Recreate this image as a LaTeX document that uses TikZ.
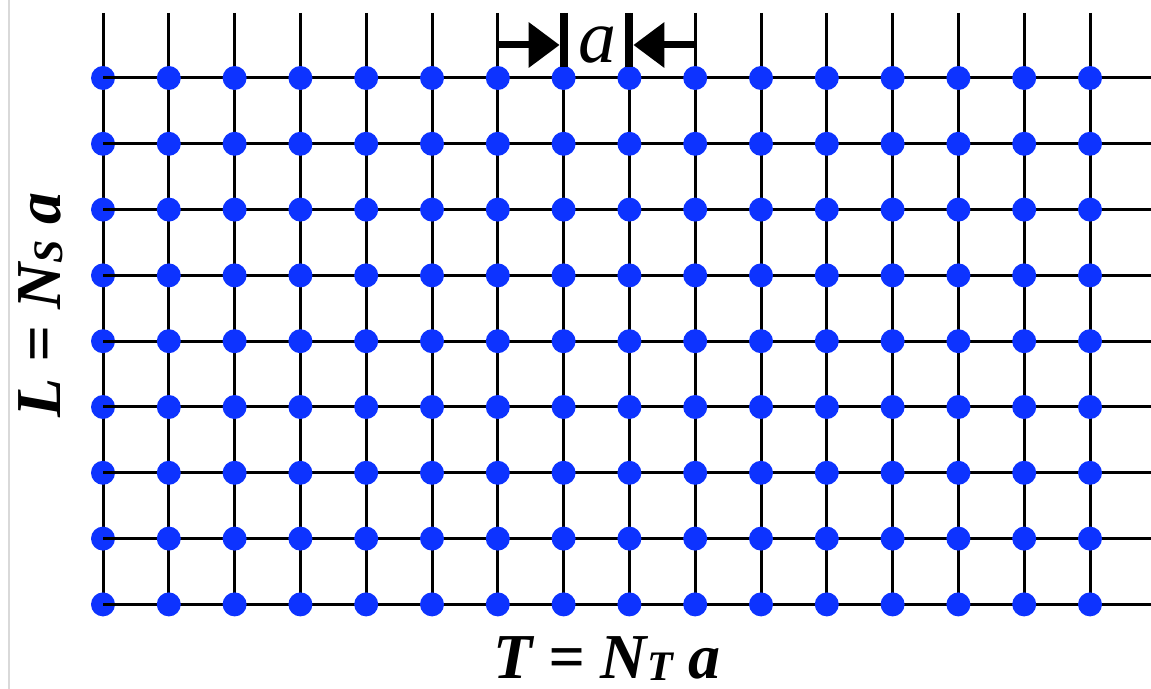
\documentclass[tikz,border=0pt]{standalone}
\usepackage{fontspec}
\setmainfont{Liberation Serif}
\usetikzlibrary{arrows.meta,calc}

\definecolor{sitecol}{RGB}{13,51,255}

\begin{document}
\begin{tikzpicture}[
  x=0.5pt,y=-0.5pt,
  site/.style={circle,fill=sitecol,inner sep=0pt,minimum size=12pt},
  link/.style={line width=1.5pt},
  bar/.style={line width=4pt},
  dimarrow/.style={line width=3.5pt,-{Triangle[length=15.5pt,width=22pt]}},
  biglabel/.style={font=\bfseries\itshape\fontsize{32}{34}\selectfont,anchor=base}
]
  \useasboundingbox (0,0) rectangle (1151,689);
  \draw[gray!30,line width=1.2pt] (9,0) -- (9,689);

  % lattice points
  \foreach \i in {1,...,16}{
    \coordinate (top-\i) at ({103+(\i-1)*65.8},13);
    \foreach \j in {1,...,9}
      \coordinate (p-\i-\j) at ({103+(\i-1)*65.8},{78+(\j-1)*65.8});
  }
  \foreach \j in {1,...,9}
    \coordinate (end-\j) at (1151,{78+(\j-1)*65.8});

  % links
  \foreach \j in {1,...,9}
    \draw[link] (p-1-\j) -- (end-\j);
  \foreach \i in {1,...,16}
    \draw[link] (top-\i) -- (p-\i-9);

  % sites
  \foreach \i in {1,...,16}
    \foreach \j in {1,...,9}
      \node[site] (s-\i-\j) at (p-\i-\j) {};
  \foreach \j in {1,...,9}
    \draw[link] (s-1-\j.center) -- (s-1-\j.east);

  % lattice spacing
  \coordinate (stop-8) at ($(top-8)+(0,54)$);
  \coordinate (stop-9) at ($(top-9)+(0,54)$);
  \draw[bar] (top-8) -- (stop-8);
  \draw[bar] (top-9) -- (stop-9);
  \coordinate (arr-l) at (top-7 |- 0,45);
  \coordinate (arr-r) at (top-10 |- 0,45);
  \draw[dimarrow] (arr-l) -- ([xshift=-2pt]top-8 |- arr-l);
  \draw[dimarrow] (arr-r) -- ([xshift=2pt]top-9 |- arr-r);
  \node[font=\itshape\fontsize{38}{40}\selectfont] (spacing) at (597,45) {a};

  % extents
  \node[biglabel] (tlabel) at (607,678)
    {T = N\raisebox{-0.1ex}{\fontsize{21}{21}\selectfont T} a};
  \node[biglabel,rotate=90] (llabel) at (60,305)
    {L = N\raisebox{-0.1ex}{\fontsize{21}{21}\selectfont S} a};
\end{tikzpicture}
\end{document}
